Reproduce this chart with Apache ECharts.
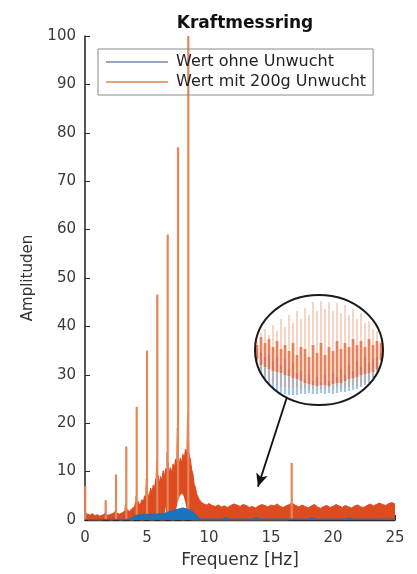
<html lang="de">
<head>
<meta charset="utf-8" />
<title>Kraftmessring</title>
<script src="https://cdn.jsdelivr.net/npm/echarts@6/dist/echarts.min.js"></script>
<style>
  html, body { margin: 0; padding: 0; background: #fff; }
</style>
</head>
<body>
<div id="main" style="width: 417px; height: 574px;"></div>
<script type="text/javascript">
// Rauschband (mit Unwucht), Frequenz in Hz / Amplitude
const noiseFreq = [0, 0.2, 0.4, 0.6, 0.8, 1.0, 1.2, 1.4, 1.6, 1.8, 2.0, 2.2, 2.4, 2.6, 2.8, 3.0, 3.2, 3.4, 3.6, 3.8,
  4.0, 4.1, 4.2, 4.3, 4.4, 4.5, 4.6, 4.7, 4.8, 4.9, 5.0, 5.1, 5.2, 5.3, 5.4, 5.5, 5.6, 5.7, 5.8, 5.9,
  6.0, 6.1, 6.2, 6.3, 6.4, 6.5, 6.6, 6.7, 6.8, 6.9, 7.0, 7.1, 7.2, 7.3, 7.4, 7.5, 7.6, 7.7, 7.8, 7.9,
  8.0, 8.1, 8.2, 8.3, 8.4, 8.5, 8.6, 8.7, 8.8, 8.9, 9.0, 9.1, 9.2, 9.3, 9.4, 9.5, 9.6, 9.7, 9.8, 9.9,
  10.0, 10.25, 10.5, 10.75, 11.0, 11.25, 11.5, 11.75, 12.0, 12.25, 12.5, 12.75, 13.0, 13.25, 13.5, 13.75,
  14.0, 14.25, 14.5, 14.75, 15.0, 15.25, 15.5, 15.75, 16.0, 16.25, 16.5, 16.75, 17.0, 17.25, 17.5, 17.75,
  18.0, 18.25, 18.5, 18.75, 19.0, 19.25, 19.5, 19.75, 20.0, 20.25, 20.5, 20.75, 21.0, 21.25, 21.5, 21.75,
  22.0, 22.25, 22.5, 22.75, 23.0, 23.25, 23.5, 23.75, 24.0, 24.25, 24.5, 24.75, 25.0];
const noiseAmp = [1.5, 1.2, 1.0, 1.3, 0.9, 1.1, 0.8, 1.0, 1.3, 1.0, 1.1, 1.3, 1.6, 1.4, 1.2, 1.5, 1.8, 2.0, 1.8, 2.4,
  2.8, 3.6, 2.9, 3.8, 3.0, 3.5, 4.2, 3.6, 5.0, 4.4, 6.2, 4.8, 5.4, 6.6, 5.6, 7.2, 6.4, 8.4, 7.2, 9.2,
  7.6, 9.0, 8.2, 10.2, 8.8, 10.6, 9.6, 11.8, 9.8, 10.8, 9.6, 11.6, 10.4, 12.6, 11.2, 13.8, 11.6, 12.8, 11.8, 13.6,
  12.6, 14.6, 13.4, 15.4, 13.2, 12.6, 10.4, 9.6, 7.4, 6.8, 5.4, 5.2, 4.3, 4.2, 3.6, 3.8, 3.3, 3.6, 3.1, 3.4,
  3.4, 3.0, 2.8, 3.1, 2.7, 2.9, 2.6, 3.0, 3.3, 3.1, 2.8, 3.2, 3.0, 2.6, 2.8, 2.5,
  2.9, 3.2, 3.0, 2.7, 3.1, 2.9, 3.3, 2.8, 2.6, 3.0, 3.2, 3.4, 3.0, 2.7, 3.1, 2.8,
  2.5, 2.9, 3.2, 2.7, 2.4, 2.8, 3.0, 2.6, 2.8, 3.2, 2.9, 2.6, 3.0, 2.7, 2.5, 2.9,
  3.1, 2.7, 2.6, 3.0, 3.3, 2.9, 3.2, 3.5, 3.2, 3.0, 3.4, 3.6, 3.3];

// Harmonische Spitzen
const peakFreq = [0.02, 1.67, 2.5, 3.33, 4.17, 5.0, 5.83, 6.67, 7.5, 8.33, 16.67];
const peakAmp = [7, 4.1, 9.4, 15.2, 23.4, 35, 46.6, 59, 77, 100, 11.8];
const shoulderAmp = [1.5, 1.5, 2, 3.5, 5, 8.5, 12, 14, 19, 22, 3.5];

// ohne Unwucht
const blueFreq = [0, 3.5, 3.8, 4.0, 4.2, 4.5, 5.0, 5.5, 6.0, 6.3, 6.6, 7.0, 7.3, 7.6, 7.9, 8.2, 8.5, 8.8, 9.0, 9.2, 9.5,
  11, 11.3, 11.6, 13.5, 13.8, 14.1, 18, 18.3, 18.6, 21, 21.3, 21.6, 25];
const blueAmp = [0.1, 0.15, 0.4, 0.8, 1.0, 1.1, 1.2, 1.1, 1.3, 1.2, 1.6, 1.8, 2.1, 2.3, 2.5, 2.3, 2.0, 1.5, 0.8, 0.3, 0.2,
  0.2, 0.5, 0.2, 0.2, 0.5, 0.2, 0.2, 0.45, 0.2, 0.2, 0.4, 0.2, 0.2];

// Luecke im Rauschband
const gapFreq = [6.38, 6.5, 6.62, 7.3, 7.35, 7.5, 7.65, 7.8, 7.95, 8.1, 8.2];
const gapAmp = [0, 2.8, 0, 0, 2.2, 3.8, 5.0, 5.5, 5.0, 3.5, 2.3];

// Lupe (Ausschnitt), je Spalte von/bis
const insetOrangeLow = [44, 36, 30, 26, 22, 20, 18, 18, 17, 16, 18, 16, 17, 15, 16, 18, 16, 15, 17, 16, 18, 16, 17, 18, 20, 19, 20, 22, 25, 28, 34, 44];
const insetOrangeHigh = [64, 72, 76, 70, 80, 74, 86, 78, 90, 82, 94, 86, 97, 90, 103, 94, 104, 96, 103, 94, 102, 92, 100, 90, 96, 86, 92, 82, 84, 76, 74, 64];
const insetDenseLow = [46, 40, 38, 36, 34, 33, 32, 30, 29, 27, 26, 24, 22, 21, 20, 19, 20, 20, 19, 21, 22, 22, 24, 26, 27, 28, 30, 31, 32, 33, 36, 45];
const insetDenseHigh = [60, 68, 62, 66, 58, 64, 56, 60, 54, 62, 50, 58, 56, 48, 60, 52, 62, 50, 58, 54, 64, 56, 62, 58, 66, 60, 64, 58, 66, 60, 64, 62];
const insetBlueLow = [44, 32, 26, 20, 16, 14, 12, 11, 10, 10, 10, 11, 11, 12, 11, 11, 12, 11, 12, 11, 12, 13, 13, 14, 15, 16, 18, 20, 22, 27, 33, 44];
const insetBlueHigh = [56, 52, 48, 50, 44, 48, 40, 46, 36, 42, 32, 34, 26, 30, 24, 28, 22, 30, 24, 32, 28, 36, 30, 40, 34, 44, 38, 48, 42, 46, 48, 52];

const xTicks = [0, 25, 5];
const yTicks = [0, 100, 10];

const FONT = 'DejaVu Sans';

function pairs(xs, ys) {
  return xs.map(function (x, i) { return [x, ys[i]]; });
}

let shoulderData = [];
peakFreq.forEach(function (f, i) {
  shoulderData.push([f - 0.25, 0], [f - 0.06, shoulderAmp[i]], [f + 0.06, shoulderAmp[i]], [f + 0.25, 0]);
});
let spikeData = pairs(peakFreq, peakAmp);
let insetData = insetOrangeLow.map(function (v, i) {
  return [i, v, insetOrangeHigh[i], insetDenseLow[i], insetDenseHigh[i], insetBlueLow[i], insetBlueHigh[i]];
});

function vline(api, x, y0, y1, color, w) {
  var a = api.coord([x, y0]);
  var b = api.coord([x, y1]);
  return { type: 'line', shape: { x1: a[0], y1: a[1], x2: b[0], y2: b[1] }, style: { stroke: color, lineWidth: w } };
}

var myChart = echarts.init(document.getElementById('main'));
let option = {
  animation: false,
  backgroundColor: '#fff',
  title: {
    text: 'Kraftmessring',
    left: 240,
    textAlign: 'center',
    top: 10,
    textStyle: { fontFamily: FONT, fontSize: 17, fontWeight: 'bold', color: '#111' }
  },
  legend: {
    orient: 'vertical',
    left: 98,
    top: 49,
    padding: [5, 7, 5, 8],
    itemGap: 4,
    itemWidth: 62,
    itemHeight: 2,
    borderColor: '#8a8a8a',
    borderWidth: 1,
    textStyle: { fontFamily: FONT, fontSize: 16, color: '#222', padding: [0, 0, 0, 3] },
    data: [
      { name: 'Wert ohne Unwucht', icon: 'rect', itemStyle: { color: '#93a7c6', borderWidth: 0 } },
      { name: 'Wert mit 200g Unwucht', icon: 'rect', itemStyle: { color: '#e4a57c', borderWidth: 0 } }
    ]
  },
  grid: [
    { left: 85, right: 22, top: 36, bottom: 52 },
    { left: 255, top: 295, width: 128, height: 110 }
  ],
  xAxis: [
    {
      type: 'value', gridIndex: 0,
      min: xTicks[0], max: xTicks[1], interval: xTicks[2],
      name: 'Frequenz [Hz]', nameLocation: 'middle', nameGap: 32,
      nameTextStyle: { fontFamily: FONT, fontSize: 17, color: '#333' },
      axisLine: { show: true, lineStyle: { color: '#2b2b2b', width: 1.3 } },
      axisTick: { show: true, inside: true, length: 5, lineStyle: { color: '#2b2b2b' } },
      axisLabel: { fontFamily: FONT, fontSize: 15, color: '#3a3a3a', margin: 11 },
      splitLine: { show: false }
    },
    { type: 'value', gridIndex: 1, min: -0.5, max: 31.5, show: false }
  ],
  yAxis: [
    {
      type: 'value', gridIndex: 0,
      min: yTicks[0], max: yTicks[1], interval: yTicks[2],
      name: 'Amplituden', nameLocation: 'middle', nameGap: 49, nameRotate: 90,
      nameTextStyle: { fontFamily: FONT, fontSize: 15, color: '#333' },
      axisLine: { show: true, lineStyle: { color: '#2b2b2b', width: 1.6 } },
      axisTick: { show: true, inside: true, length: 5, lineStyle: { color: '#2b2b2b' } },
      axisLabel: { fontFamily: FONT, fontSize: 15, color: '#3a3a3a', margin: 9 },
      splitLine: { show: false }
    },
    { type: 'value', gridIndex: 1, min: 0, max: 110, show: false }
  ],
  series: [
    {
      name: 'Wert mit 200g Unwucht',
      type: 'line', z: 1, symbol: 'none',
      data: shoulderData,
      lineStyle: { width: 1, color: '#e9916a' },
      areaStyle: { color: '#ec9a72', opacity: 1 }
    },
    {
      name: 'Wert mit 200g Unwucht',
      type: 'line', z: 2, symbol: 'none',
      data: pairs(noiseFreq, noiseAmp),
      lineStyle: { width: 1, color: '#dd4a1f' },
      areaStyle: { color: '#de4b1f', opacity: 1 }
    },
    {
      name: 'Wert mit 200g Unwucht',
      type: 'custom', z: 3,
      data: spikeData,
      renderItem: function (params, api) {
        return vline(api, api.value(0), 0, api.value(1), '#e3875a', 2.2);
      }
    },
    {
      type: 'line', z: 4, symbol: 'none',
      data: pairs(gapFreq, gapAmp),
      lineStyle: { width: 0 },
      areaStyle: { color: '#ffffff', opacity: 1 }
    },
    {
      name: 'Wert ohne Unwucht',
      type: 'line', z: 5, symbol: 'none',
      data: pairs(blueFreq, blueAmp),
      lineStyle: { width: 1, color: '#1a6fb8' },
      areaStyle: { color: '#1a73bd', opacity: 1 },
      markLine: {
        silent: true,
        symbol: ['none', 'arrow'],
        symbolSize: [9, 13],
        label: { show: false },
        lineStyle: { color: '#111', width: 1.8, type: 'solid' },
        data: [[{ coord: [16.29, 25.4] }, { coord: [13.95, 6.9] }]]
      }
    },
    {
      type: 'custom', xAxisIndex: 1, yAxisIndex: 1, z: 6,
      data: insetData,
      renderItem: function (params, api) {
        var i = api.value(0);
        return {
          type: 'group',
          children: [
            vline(api, i, api.value(5), api.value(6), 'rgba(70,140,205,0.5)', 2.2),
            vline(api, i, api.value(1), api.value(2), 'rgba(228,128,84,0.5)', 1.3),
            vline(api, i, api.value(3), api.value(4), 'rgba(224,95,45,0.7)', 2.8)
          ]
        };
      }
    }
  ],
  graphic: [
    {
      type: 'ellipse', z: 100,
      shape: { cx: 319, cy: 350, rx: 64, ry: 55 },
      style: { fill: 'none', stroke: '#1a1a1a', lineWidth: 2 }
    }
  ]
};
myChart.setOption(option);
</script>
</body>
</html>
